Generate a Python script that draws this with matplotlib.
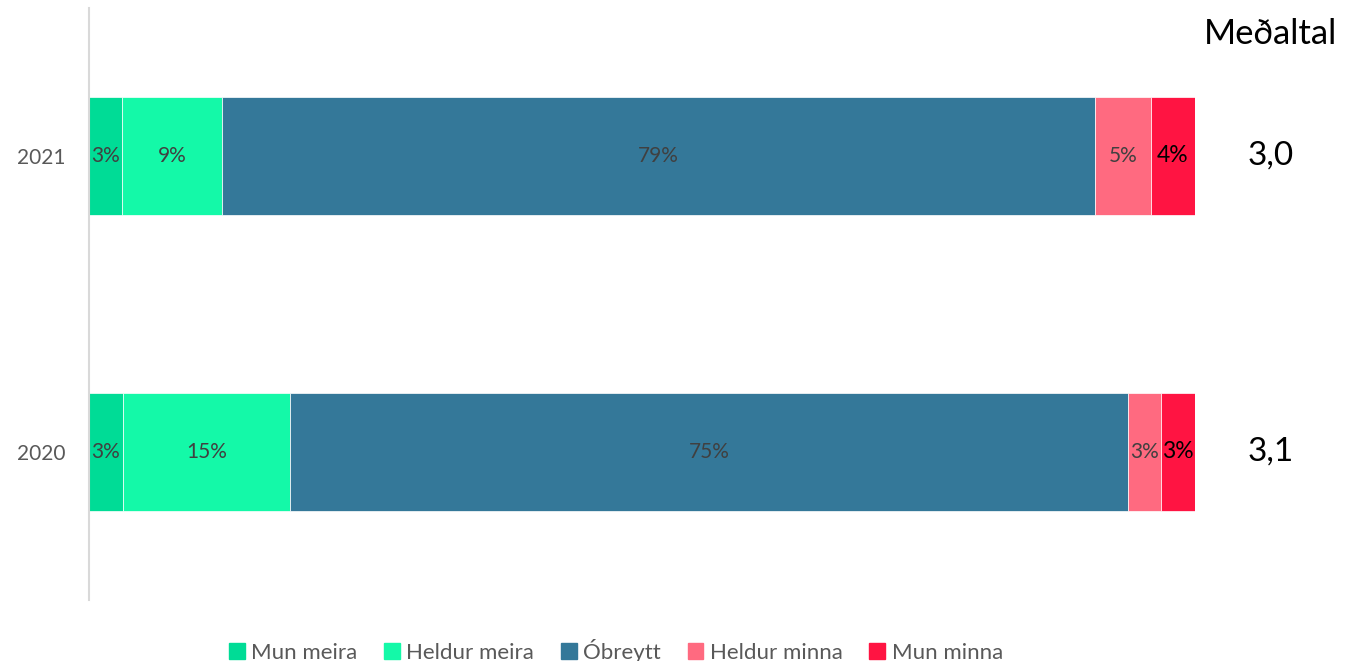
import matplotlib
matplotlib.use("Agg")
import matplotlib.pyplot as plt
import numpy as np

plt.rcParams['font.family'] = ['Lato', 'DejaVu Sans']

years = ['2020', '2021']
categories = ['Mun meira', 'Heldur meira', 'Óbreytt', 'Heldur minna', 'Mun minna']
values = {
    '2020': [3, 15, 75, 3, 3],
    '2021': [3, 9, 79, 5, 4],
}
averages = {'2020': '3,1', '2021': '3,0'}
colors = ['#00DC96', '#14F9A8', '#347899', '#FF6A80', '#FF1442']
label_colors = ['#404040', '#404040', '#404040', '#404040', '#000000']

fig = plt.figure(figsize=(13.55, 6.61), dpi=100)
ax = fig.add_axes([89 / 1355, 1 - 600 / 661, (1195 - 89) / 1355, 592 / 661])

y = np.arange(len(years))
for i, year in enumerate(years):
    vals = np.array(values[year], dtype=float)
    # 100% stacked: segments are shares of the row total
    shares = vals / vals.sum() * 100
    left = 0
    for j, (v, s) in enumerate(zip(vals, shares)):
        ax.barh(y[i], s, left=left, height=0.4, color=colors[j],
                edgecolor='white', linewidth=0.5, zorder=2)
        fs = 16.5 if j == 4 else 15
        ax.text(left + s / 2, y[i], f'{int(v)}%', ha='center', va='center',
                fontsize=fs, color=label_colors[j], zorder=3)
        left += s
    ax.text(1.068, y[i], averages[year], transform=ax.get_yaxis_transform(),
            ha='center', va='center', fontsize=24, color='black')

ax.text(1.068, 1 - 26 / 592, 'Meðaltal', transform=ax.transAxes,
        ha='center', va='center', fontsize=25, color='black')

ax.set_xlim(0, 100)
ax.set_ylim(-0.5, 1.5)
ax.set_yticks(y)
ax.set_yticklabels(years, fontsize=15, color='#595959')
ax.set_xticks([])
ax.tick_params(axis='y', length=0, pad=17)
for s in ['top', 'right', 'bottom']:
    ax.spines[s].set_visible(False)
ax.spines['left'].set_color('#D9D9D9')
ax.spines['left'].set_linewidth(1.5)

handles = [plt.Rectangle((0, 0), 1, 1, color=c) for c in colors]
fig.legend(handles, categories, loc='center', bbox_to_anchor=(616 / 1355, 1 - 651 / 661),
           ncol=5, frameon=False, fontsize=16, handlelength=0.7, handleheight=0.7,
           handletextpad=0.3, columnspacing=1.2, labelcolor='#595959')

fig.savefig('out.png', dpi=100)
